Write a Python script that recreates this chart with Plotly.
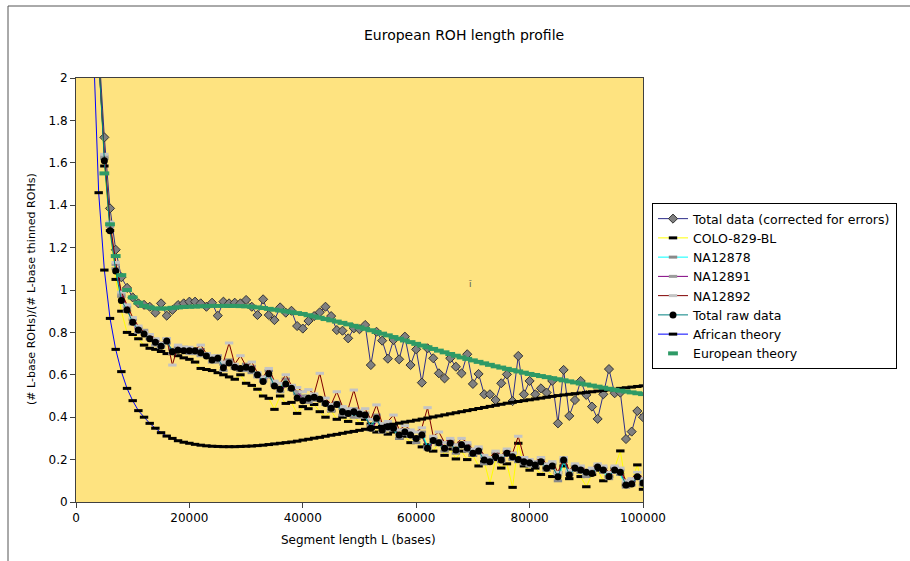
import plotly.graph_objects as go

# ---------------- data ----------------
L_start_main = 4000       # first L for the observed series / European theory
L_start_african = 3000    # first L for the African theory curve
L_step = 1000

total_data = [2.15, 1.72, 1.385, 1.19, 1.06, 1.01, 0.965, 0.937, 0.93, 0.921, 0.893,
              0.937, 0.879, 0.906, 0.929, 0.937, 0.945, 0.945, 0.937, 0.921, 0.940,
              0.879, 0.945, 0.937, 0.940, 0.937, 0.953, 0.921, 0.882, 0.956, 0.882,
              0.858, 0.918, 0.893, 0.902, 0.830, 0.818, 0.854, 0.877, 0.895, 0.921,
              0.877, 0.811, 0.808, 0.772, 0.819, 0.815, 0.835, 0.646, 0.803, 0.761,
              0.676, 0.764, 0.673, 0.780, 0.646, 0.720, 0.563, 0.725, 0.678, 0.607,
              0.583, 0.678, 0.638, 0.607, 0.697, 0.557, 0.604, 0.508, 0.508, 0.481,
              0.560, 0.602, 0.476, 0.689, 0.508, 0.571, 0.508, 0.536, 0.516, 0.571,
              0.371, 0.623, 0.406, 0.481, 0.571, 0.505, 0.450, 0.392, 0.508, 0.627,
              0.513, 0.516, 0.297, 0.332, 0.429, 0.40]

colo_829_bl = [2.10, 1.585, 1.28, 1.05, 0.90, 0.80, 0.79, 0.77, 0.74, 0.725, 0.72,
               0.71, 0.70, 0.70, 0.69, 0.68, 0.673, 0.66, 0.63, 0.625, 0.62, 0.61,
               0.60, 0.59, 0.579, 0.60, 0.56, 0.55, 0.532, 0.50, 0.489, 0.437, 0.50,
               0.465, 0.47, 0.418, 0.45, 0.44, 0.46, 0.426, 0.40, 0.43, 0.39, 0.40,
               0.38, 0.41, 0.37, 0.39, 0.368, 0.33, 0.35, 0.32, 0.33, 0.30, 0.31,
               0.28, 0.30, 0.26, 0.27, 0.24, 0.28, 0.22, 0.25, 0.203, 0.24, 0.20,
               0.22, 0.17, 0.19, 0.088, 0.20, 0.16, 0.18, 0.069, 0.277, 0.17, 0.15,
               0.16, 0.13, 0.16, 0.12, 0.14, 0.17, 0.11, 0.15, 0.12, 0.072, 0.13,
               0.15, 0.10, 0.12, 0.16, 0.241, 0.08, 0.10, 0.175, 0.06]

na12878 = [2.10, 1.62, 1.31, 1.10, 0.97, 0.90, 0.86, 0.82, 0.80, 0.77, 0.76, 0.74,
           0.75, 0.72, 0.73, 0.71, 0.72, 0.70, 0.72, 0.69, 0.68, 0.66, 0.65, 0.67,
           0.63, 0.62, 0.65, 0.61, 0.60, 0.58, 0.62, 0.55, 0.54, 0.58, 0.53, 0.51,
           0.50, 0.47, 0.50, 0.48, 0.46, 0.45, 0.47, 0.41, 0.43, 0.40, 0.42, 0.40,
           0.36, 0.41, 0.33, 0.37, 0.34, 0.30, 0.34, 0.31, 0.28, 0.33, 0.26, 0.30,
           0.27, 0.24, 0.29, 0.23, 0.28, 0.24, 0.22, 0.25, 0.18, 0.20, 0.23, 0.19,
           0.24, 0.20, 0.19, 0.21, 0.17, 0.19, 0.20, 0.15, 0.18, 0.10, 0.19, 0.13,
           0.17, 0.14, 0.12, 0.15, 0.17, 0.14, 0.11, 0.16, 0.13, 0.07, 0.10, 0.12,
           0.08]

na12891 = [2.10, 1.63, 1.30, 1.12, 0.98, 0.92, 0.84, 0.80, 0.81, 0.78, 0.74, 0.73,
           0.77, 0.70, 0.72, 0.73, 0.70, 0.72, 0.69, 0.70, 0.66, 0.69, 0.62, 0.66,
           0.64, 0.63, 0.62, 0.64, 0.59, 0.57, 0.59, 0.56, 0.52, 0.55, 0.55, 0.52,
           0.49, 0.50, 0.48, 0.49, 0.47, 0.43, 0.46, 0.44, 0.41, 0.44, 0.40, 0.42,
           0.34, 0.38, 0.35, 0.34, 0.36, 0.32, 0.32, 0.33, 0.30, 0.31, 0.25, 0.28,
           0.29, 0.26, 0.27, 0.25, 0.26, 0.27, 0.23, 0.23, 0.21, 0.19, 0.21, 0.20,
           0.22, 0.23, 0.20, 0.18, 0.19, 0.17, 0.18, 0.17, 0.16, 0.13, 0.20, 0.14,
           0.15, 0.16, 0.13, 0.14, 0.16, 0.16, 0.12, 0.14, 0.15, 0.09, 0.08, 0.12,
           0.10]

na12892 = [2.10, 1.64, 1.32, 1.13, 0.99, 0.93, 0.87, 0.83, 0.80, 0.79, 0.77, 0.75,
           0.77, 0.646, 0.74, 0.73, 0.73, 0.72, 0.74, 0.70, 0.69, 0.67, 0.66, 0.75,
           0.65, 0.69, 0.64, 0.66, 0.61, 0.59, 0.63, 0.57, 0.56, 0.60, 0.55, 0.54,
           0.52, 0.53, 0.51, 0.607, 0.49, 0.46, 0.52, 0.45, 0.44, 0.528, 0.43, 0.44,
           0.39, 0.458, 0.37, 0.38, 0.41, 0.34, 0.36, 0.34, 0.33, 0.35, 0.445, 0.31,
           0.33, 0.28, 0.30, 0.27, 0.30, 0.28, 0.25, 0.26, 0.22, 0.21, 0.24, 0.22,
           0.25, 0.23, 0.31, 0.21, 0.20, 0.19, 0.21, 0.18, 0.19, 0.14, 0.21, 0.15,
           0.18, 0.17, 0.15, 0.16, 0.18, 0.17, 0.14, 0.17, 0.16, 0.10, 0.11, 0.14,
           0.11]

total_raw = [2.10, 1.61, 1.28, 1.09, 0.95, 0.906, 0.848, 0.811, 0.792, 0.770, 0.753,
             0.735, 0.760, 0.709, 0.716, 0.714, 0.714, 0.714, 0.704, 0.689, 0.670,
             0.678, 0.633, 0.656, 0.636, 0.630, 0.636, 0.626, 0.600, 0.568, 0.605,
             0.547, 0.532, 0.557, 0.536, 0.490, 0.478, 0.489, 0.494, 0.485, 0.465,
             0.442, 0.460, 0.426, 0.418, 0.426, 0.415, 0.410, 0.348, 0.395, 0.340,
             0.355, 0.348, 0.316, 0.330, 0.316, 0.300, 0.316, 0.253, 0.290, 0.280,
             0.253, 0.277, 0.245, 0.270, 0.255, 0.230, 0.240, 0.198, 0.190, 0.215,
             0.198, 0.230, 0.214, 0.200, 0.190, 0.185, 0.175, 0.190, 0.159, 0.170,
             0.119, 0.198, 0.127, 0.160, 0.151, 0.140, 0.135, 0.165, 0.151, 0.120,
             0.151, 0.140, 0.080, 0.085, 0.119, 0.090]

african_theory = [2.20, 1.459, 1.094, 0.866, 0.720, 0.615, 0.536, 0.478, 0.431, 0.400,
                  0.371, 0.348, 0.327, 0.311, 0.300, 0.289, 0.282, 0.277, 0.272, 0.268,
                  0.265, 0.263, 0.262, 0.261, 0.261, 0.261, 0.262, 0.263, 0.264, 0.266,
                  0.268, 0.271, 0.274, 0.277, 0.280, 0.283, 0.287, 0.292, 0.296, 0.301,
                  0.305, 0.310, 0.315, 0.319, 0.324, 0.329, 0.333, 0.338, 0.343, 0.348,
                  0.352, 0.357, 0.362, 0.367, 0.372, 0.377, 0.381, 0.386, 0.391, 0.396,
                  0.401, 0.406, 0.411, 0.416, 0.421, 0.426, 0.431, 0.436, 0.441, 0.446,
                  0.451, 0.456, 0.461, 0.466, 0.470, 0.474, 0.478, 0.482, 0.486, 0.490,
                  0.494, 0.498, 0.502, 0.505, 0.508, 0.511, 0.514, 0.517, 0.520, 0.523,
                  0.526, 0.529, 0.532, 0.536, 0.539, 0.542, 0.545, 0.548]

european_theory = [2.10, 1.55, 1.31, 1.16, 1.07, 1.00, 0.965, 0.94, 0.925, 0.918, 0.913,
                   0.912, 0.913, 0.916, 0.918, 0.920, 0.921, 0.922, 0.923, 0.924, 0.925,
                   0.925, 0.925, 0.925, 0.925, 0.924, 0.923, 0.921, 0.918, 0.915, 0.911,
                   0.907, 0.903, 0.899, 0.895, 0.891, 0.887, 0.881, 0.875, 0.869, 0.863,
                   0.857, 0.851, 0.845, 0.838, 0.831, 0.824, 0.817, 0.810, 0.802, 0.794,
                   0.786, 0.778, 0.770, 0.762, 0.754, 0.746, 0.738, 0.730, 0.722, 0.714,
                   0.706, 0.698, 0.690, 0.682, 0.675, 0.668, 0.661, 0.654, 0.647, 0.640,
                   0.634, 0.628, 0.622, 0.616, 0.610, 0.604, 0.599, 0.594, 0.589, 0.584,
                   0.579, 0.574, 0.569, 0.564, 0.559, 0.554, 0.549, 0.544, 0.539, 0.534,
                   0.529, 0.525, 0.521, 0.517, 0.513, 0.509]

x_ticks = [0, 20000, 40000, 60000, 80000, 100000]
y_ticks = [0, 0.2, 0.4, 0.6, 0.8, 1, 1.2, 1.4, 1.6, 1.8, 2]

title_text = "European ROH length profile"
x_title = "Segment length L (bases)"
y_title = "(# L-base ROHs)/(# L-base thinned ROHs)"


def lengths(start, values):
    return [start + i * L_step for i in range(len(values))]


# ---------------- figure ----------------
W, H = 910, 561
PL, PR, PT, PB = 76, 643, 78, 502  # plot area in pixels
FONT = "DejaVu Sans"


def px(x):
    return (x - PL) / (PR - PL)


def py(y):
    return (PB - y) / (PB - PT)


fig = go.Figure()


def dash_marker(color, size=6, width=3):
    return dict(symbol="line-ew", size=size, line=dict(color=color, width=width), color=color)


fig.add_trace(go.Scatter(
    x=lengths(L_start_main, total_data), y=total_data, mode="lines+markers",
    name="Total data (corrected for errors)",
    line=dict(color="#2E2E8A", width=1),
    marker=dict(symbol="diamond", size=7, color="#808080",
                line=dict(color="#333333", width=1))))

fig.add_trace(go.Scatter(
    x=lengths(L_start_main, colo_829_bl), y=colo_829_bl, mode="lines+markers",
    name="COLO-829-BL", line=dict(color="#FFFF00", width=1),
    marker=dash_marker("#000000")))

fig.add_trace(go.Scatter(
    x=lengths(L_start_main, na12878), y=na12878, mode="lines+markers",
    name="NA12878", line=dict(color="#00FFFF", width=1),
    marker=dash_marker("#8A8A8A")))

fig.add_trace(go.Scatter(
    x=lengths(L_start_main, na12891), y=na12891, mode="lines+markers",
    name="NA12891", line=dict(color="#800080", width=1),
    marker=dash_marker("#9C9C9C")))

fig.add_trace(go.Scatter(
    x=lengths(L_start_main, na12892), y=na12892, mode="lines+markers",
    name="NA12892", line=dict(color="#800000", width=1),
    marker=dash_marker("#C4C4C4")))

fig.add_trace(go.Scatter(
    x=lengths(L_start_main, total_raw), y=total_raw, mode="lines+markers",
    name="Total raw data", line=dict(color="#008080", width=1),
    marker=dict(symbol="circle", size=7, color="#000000")))

fig.add_trace(go.Scatter(
    x=lengths(L_start_african, african_theory), y=african_theory, mode="lines+markers",
    name="African theory", line=dict(color="#0000FF", width=1),
    marker=dash_marker("#000000", size=6, width=3)))

fig.add_trace(go.Scatter(
    x=lengths(L_start_main, european_theory), y=european_theory, mode="markers",
    name="European theory",
    marker=dash_marker("#2E9A66", size=7, width=4)))

axis_common = dict(showgrid=False, zeroline=False, showline=True, linecolor="#404040",
                   linewidth=1, mirror=True, ticks="outside", ticklen=5,
                   tickcolor="#404040", tickfont=dict(family=FONT, size=12, color="#000000"))

fig.update_layout(
    width=W, height=H,
    margin=dict(l=PL, r=W - PR, t=PT, b=H - PB, pad=0),
    paper_bgcolor="#FFFFFF", plot_bgcolor="#FEE380",
    font=dict(family=FONT, size=11, color="#000000"),
    showlegend=True,
    legend=dict(x=px(652), y=py(203), xanchor="left", yanchor="top",
                bgcolor="#FFFFFF", bordercolor="#000000", borderwidth=1,
                font=dict(family=FONT, size=12.5, color="#000000"),
                tracegroupgap=0, itemwidth=30),
    xaxis=dict(range=[0, 100000], tickvals=x_ticks, tickformat="d", **axis_common),
    yaxis=dict(range=[0, 2], tickvals=y_ticks, **axis_common),
)

annotations = [
    dict(text=title_text, x=px(464), y=py(35), xref="paper", yref="paper",
         xanchor="center", yanchor="middle",
         showarrow=False, font=dict(family=FONT, size=14, color="#000000")),
    dict(text=x_title, x=px(358), y=py(540), xref="paper", yref="paper",
         xanchor="center", yanchor="middle",
         showarrow=False, font=dict(family=FONT, size=12, color="#000000")),
    dict(text=y_title, x=px(31), y=py(289), xref="paper", yref="paper",
         xanchor="center", yanchor="middle",
         showarrow=False, textangle=-90, font=dict(family=FONT, size=11, color="#000000")),
    dict(text="ĭ", x=px(470), y=py(284), xref="paper", yref="paper",
         xanchor="center", yanchor="middle",
         showarrow=False, font=dict(family=FONT, size=9, color="#555555")),
]
fig.update_layout(annotations=annotations)

# outer chart frame (left and top edges visible in the reference)
fig.add_shape(type="line", xref="paper", yref="paper", x0=px(8), x1=px(8),
              y0=py(6), y1=py(561), line=dict(color="#555555", width=1))
fig.add_shape(type="line", xref="paper", yref="paper", x0=px(8), x1=px(910),
              y0=py(6), y1=py(6), line=dict(color="#555555", width=1))

fig.write_html("out.html")
